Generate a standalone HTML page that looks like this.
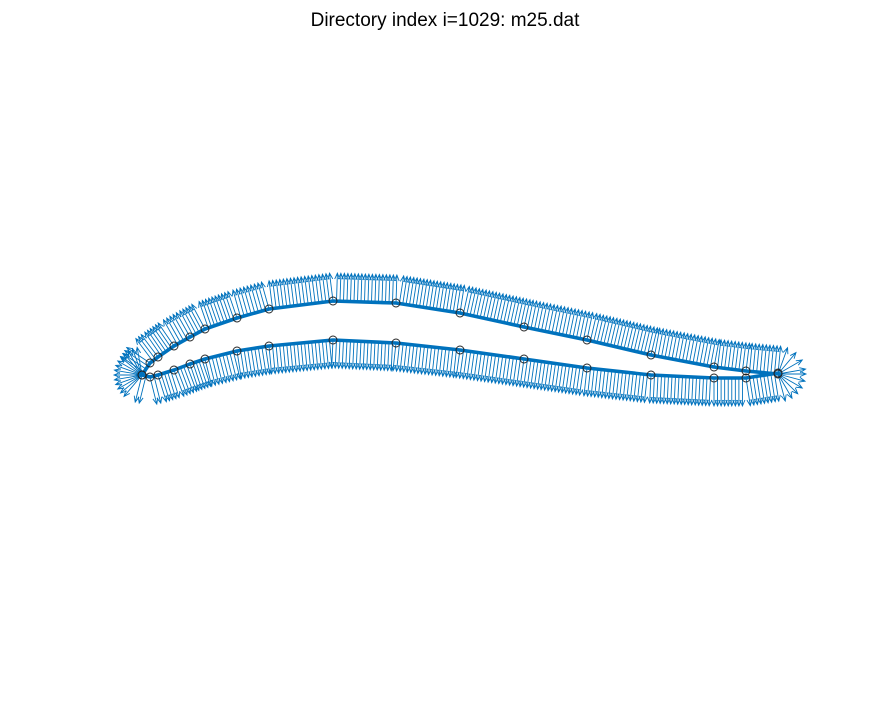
<!DOCTYPE html>
<html><head><meta charset="utf-8"><style>
body{margin:0;background:#fff;}
svg{display:block;font-family:"Liberation Sans",sans-serif;}
</style></head><body>
<svg width="891" height="703" viewBox="0 0 891 703">
<rect width="891" height="703" fill="#fff"/>
<text x="445" y="26" text-anchor="middle" font-size="19" fill="#000">Directory index i=1029: m25.dat</text>
<g id="arrows"></g>
<g id="curves"></g>
<g id="markers"></g>
</svg>
<script>
// Airfoil node coordinates (screen-projected data)
const upperX=[778,746,714,651,587,524,460,396,333,269,237,205,190,174,158,150,142];
const upperY=[374,371,367,355,340,327,313,303,301,309,318,329,337,346,357,363,375];
const lowerX=[142,150,158,174,190,205,237,269,333,396,460,524,587,651,714,746,778];
const lowerY=[375,377,375,370,364,359,351,346,340,343,350,359,368,375,378,378,373];
// fan directions (degrees, screen coords) at leading and trailing edges
const leAngles=[130,140,150,160,170,180,190,200,210,220,230,240,250,260];
const teAngles=[-70,-50,-30,-10,0,15,30,45,60,75];
const arrowLen=28;
const arrowStep=3.5;

const NS="http://www.w3.org/2000/svg";
const C="#0072BD";
const ga=document.getElementById('arrows');
const gc=document.getElementById('curves');
const gm=document.getElementById('markers');

function arrow(x0,y0,nx,ny,len,name){
  const x1=x0+nx*len,y1=y0+ny*len;
  const l=document.createElementNS(NS,'path');
  const hx=-nx*6,hy=-ny*6,px=-ny*2.5,py=nx*2.5;
  l.setAttribute('d',`M${x0},${y0}L${x1},${y1}M${x1+hx+px},${y1+hy+py}L${x1},${y1}L${x1+hx-px},${y1+hy-py}`);
  l.setAttribute('stroke',C);l.setAttribute('stroke-width','0.9');l.setAttribute('fill','none');
  
  
  ga.appendChild(l);
}
function drawCurve(xs,ys,name){
  const p=document.createElementNS(NS,'polyline');
  p.setAttribute('points',xs.map((x,i)=>x+','+ys[i]).join(' '));
  p.setAttribute('fill','none');p.setAttribute('stroke',C);
  p.setAttribute('stroke-width','3.6');p.setAttribute('stroke-linejoin','round');
  
  
  gc.appendChild(p);
}
function drawArrows(xs,ys,name){
  for(let i=0;i<xs.length-1;i++){
    const dx=xs[i+1]-xs[i],dy=ys[i+1]-ys[i];
    const L=Math.hypot(dx,dy);
    const nx=-dy/L, ny=dx/L;
    const n=Math.max(1,Math.round(L/arrowStep));
    for(let k=0;k<n;k++){
      const t=k/n;
      arrow(xs[i]+dx*t,ys[i]+dy*t,nx,ny,arrowLen,name);
    }
  }
}
function drawFan(x,y,angles,name){
  angles.forEach(a=>{const r=a*Math.PI/180;arrow(x,y,Math.cos(r),Math.sin(r),arrowLen,name);});
}
function drawMarkers(xs,ys,name){
  xs.forEach((x,i)=>{
    const c=document.createElementNS(NS,'circle');
    c.setAttribute('cx',x);c.setAttribute('cy',ys[i]);c.setAttribute('r','4');
    c.setAttribute('fill','none');c.setAttribute('stroke','#222');c.setAttribute('stroke-width','0.9');
    
    
    gm.appendChild(c);
  });
}
drawArrows(upperX,upperY,'upper-normal-arrow');
drawArrows(lowerX,lowerY,'lower-normal-arrow');
drawFan(lowerX[0],lowerY[0],leAngles,'leading-edge-arrow');
drawFan(upperX[0],upperY[0],teAngles,'trailing-edge-arrow');
drawCurve(upperX,upperY,'upper-surface-line');
drawCurve(lowerX,lowerY,'lower-surface-line');
drawMarkers(upperX,upperY,'upper-node-marker');
drawMarkers(lowerX,lowerY,'lower-node-marker');
</script>
</body></html>
